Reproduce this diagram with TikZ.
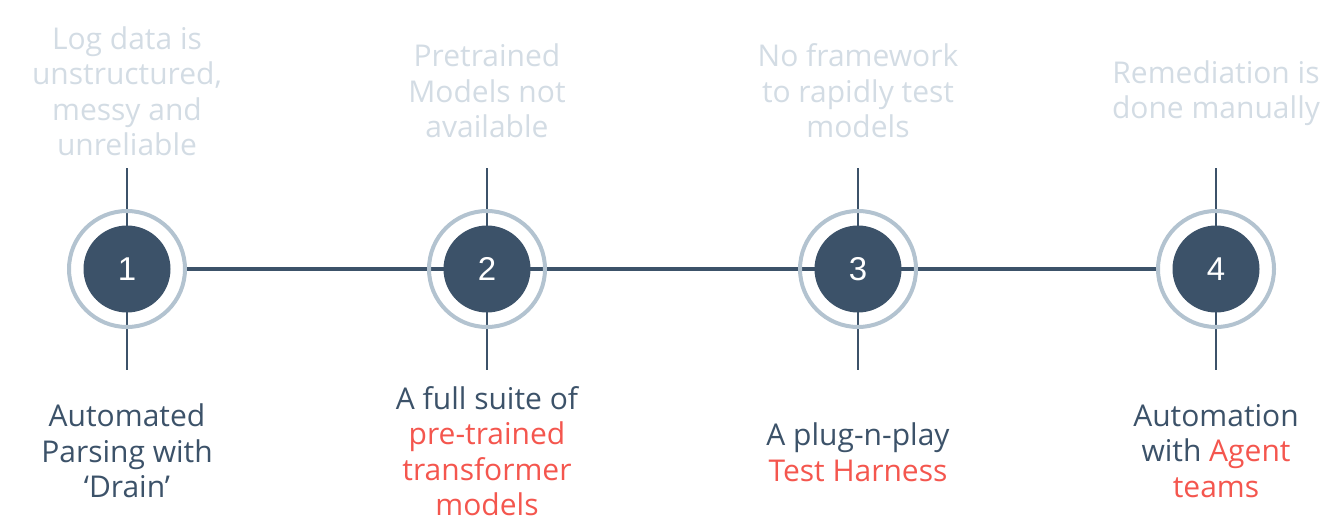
\documentclass[tikz,border=0pt]{standalone}
\usepackage{fontspec}
\setmainfont{Open Sans}
\newfontfamily\numfont{Liberation Sans}
\usepackage{xcolor}
\usepackage{tikz}
\usetikzlibrary{backgrounds}

\definecolor{slateblue}{HTML}{3C5269}
\definecolor{ringgray}{HTML}{B3C3D0}
\definecolor{fadedgray}{HTML}{D3DCE4}
\definecolor{accentred}{HTML}{F4564E}

\tikzset{
    ring/.style={shape=circle,draw=ringgray,line width=4pt,minimum size=116pt,inner sep=0pt},
    dot/.style={shape=circle,fill=slateblue,text=white,minimum size=87pt,inner sep=0pt,
        font=\numfont\fontsize{33}{33}\selectfont},
    problem/.style={align=center,text=fadedgray,font=\fontsize{30}{35.5}\selectfont},
    solution/.style={align=center,text=slateblue,font=\fontsize{30}{35.5}\selectfont},
    timeline/.style={draw=slateblue,line width=4pt},
    tick/.style={draw=slateblue,line width=2.5pt}
}

\begin{document}
\begin{tikzpicture}[x=1pt,y=-1pt]
            \useasboundingbox (0,0) rectangle (1344,524);

            \node[ring] (r1) at (127,269) {};
            \node[ring] (r2) at (487,269) {};
            \node[ring] (r3) at (858,269) {};
            \node[ring] (r4) at (1216,269) {};

            \coordinate (a1) at (127,168);
            \coordinate (b1) at (127,370);
            \coordinate (a2) at (487,168);
            \coordinate (b2) at (487,370);
            \coordinate (a3) at (858,168);
            \coordinate (b3) at (858,370);
            \coordinate (a4) at (1216,168);
            \coordinate (b4) at (1216,370);

            \begin{pgfonlayer}{background}
            \path [timeline] (r1) -- (r4);
            \path [tick] (a1) -- (b1);
            \path [tick] (a2) -- (b2);
            \path [tick] (a3) -- (b3);
            \path [tick] (a4) -- (b4);
            \end{pgfonlayer}

            \node[dot] (n1) at (r1.center) {1};
            \node[dot] (n2) at (r2.center) {2};
            \node[dot] (n3) at (r3.center) {3};
            \node[dot] (n4) at (r4.center) {4};

            \node[problem] (p1) at (127,91) {Log data is\\unstructured,\\messy and\\unreliable};
            \node[problem] (p2) at (487,91) {Pretrained\\Models not\\available};
            \node[problem] (p3) at (858,91) {No framework\\to rapidly test\\models};
            \node[problem] (p4) at (1216,93) {Remediation is\\done manually};

            \node[solution] (s1) at (127,451) {Automated\\Parsing with\\‘Drain’};
            \node[solution] (s2) at (487,451) {A full suite of\\\textcolor{accentred}{pre-trained}\\\textcolor{accentred}{transformer}\\\textcolor{accentred}{models}};
            \node[solution] (s3) at (858,452) {A plug-n-play\\\textcolor{accentred}{Test Harness}};
            \node[solution] (s4) at (1216,451) {Automation\\with \textcolor{accentred}{Agent}\\\textcolor{accentred}{teams}};
        \end{tikzpicture}
\end{document}
